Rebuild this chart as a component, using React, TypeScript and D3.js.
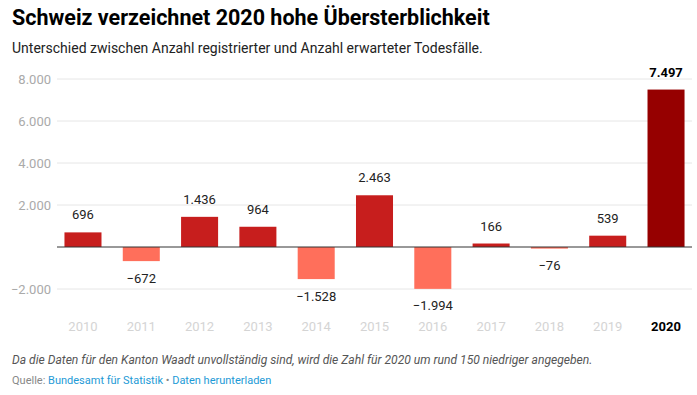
import React from "react";
import * as d3 from "d3";

const years = ["2010", "2011", "2012", "2013", "2014", "2015", "2016", "2017", "2018", "2019", "2020"];
const excess = [696, -672, 1436, 964, -1528, 2463, -1994, 166, -76, 539, 7497];
const yTicks = [-2000, 2000, 4000, 6000, 8000];

const fmt = (v: number) => {
  const s = d3.format(",")(Math.abs(v)).replace(/,/g, ".");
  return v < 0 ? "\u2212" + s : s;
};

function App() {
  const width = 697;
  const height = 395;
  const left = 57;
  const right = 692;

  const x = d3
    .scaleBand()
    .domain(years)
    .range([left, right])
    .paddingInner(0.365)
    .paddingOuter(0.128);

  const y = d3.scaleLinear().domain([-2000, 8000]).range([289, 79]);

  const barColor = (v: number, i: number) =>
    i === years.length - 1 ? "#960000" : v < 0 ? "#ff6f5b" : "#c71e1d";

  return (
    <svg
      width={width}
      height={height}
      style={{ position: "absolute", left: 0, top: 0, fontFamily: "Roboto, sans-serif", background: "#fff" }}
    >
      <text x={12} y={25} fontSize={21.5} fontWeight="bold" fill="#000">
        Schweiz verzeichnet 2020 hohe Übersterblichkeit
      </text>
      <text x={12} y={53} fontSize={14} fill="#222">
        Unterschied zwischen Anzahl registrierter und Anzahl erwarteter Todesfälle.
      </text>

      <g>
        {yTicks.map((t) => (
          <g key={t}>
            <line x1={left} x2={right} y1={y(t)} y2={y(t)} stroke="#e6e6e6" />
            <text x={51} y={y(t)} dy="0.35em" textAnchor="end" fontSize={13} fill="#aaa">
              {fmt(t)}
            </text>
          </g>
        ))}
      </g>

      <g>
        {excess.map((v, i) => {
          const x0 = x(years[i]) as number;
          const top = y(Math.max(0, v));
          const h = Math.abs(y(v) - y(0));
          const last = i === years.length - 1;
          const ly = v >= 0 ? top - 17.5 : y(v) + 17;
          return (
            <g key={years[i]}>
              <rect x={x0} y={top} width={x.bandwidth()} height={Math.max(h, 1)} fill={barColor(v, i)} />
              <text
                x={x0 + x.bandwidth() / 2}
                y={ly}
                dy="0.35em"
                textAnchor="middle"
                fontSize={13}
                fontWeight={last ? "bold" : "normal"}
                fill={last ? "#000" : "#222"}
              >
                {fmt(v)}
              </text>
            </g>
          );
        })}
      </g>

      <line x1={left} x2={right} y1={y(0)} y2={y(0)} stroke="#333" strokeWidth={1} />

      <g>
        {years.map((yr, i) => {
          const last = i === years.length - 1;
          return (
            <text
              key={yr}
              x={(x(yr) as number) + x.bandwidth() / 2}
              y={326}
              dy="0.35em"
              textAnchor="middle"
              fontSize={13}
              fontWeight={last ? "bold" : "normal"}
              fill={last ? "#000" : "#d4d4d4"}
            >
              {yr}
            </text>
          );
        })}
      </g>

      <text x={12} y={364} fontSize={12.1} fontStyle="italic" fill="#555">
        Da die Daten für den Kanton Waadt unvollständig sind, wird die Zahl für 2020 um rund 150 niedriger angegeben.
      </text>
      <text x={12} y={384} fontSize={11} fill="#888">
        Quelle: <tspan fill="#1d9ad6">Bundesamt für Statistik</tspan> •{" "}
        <tspan fill="#1d9ad6">Daten herunterladen</tspan>
      </text>
    </svg>
  );
}

export default App;
